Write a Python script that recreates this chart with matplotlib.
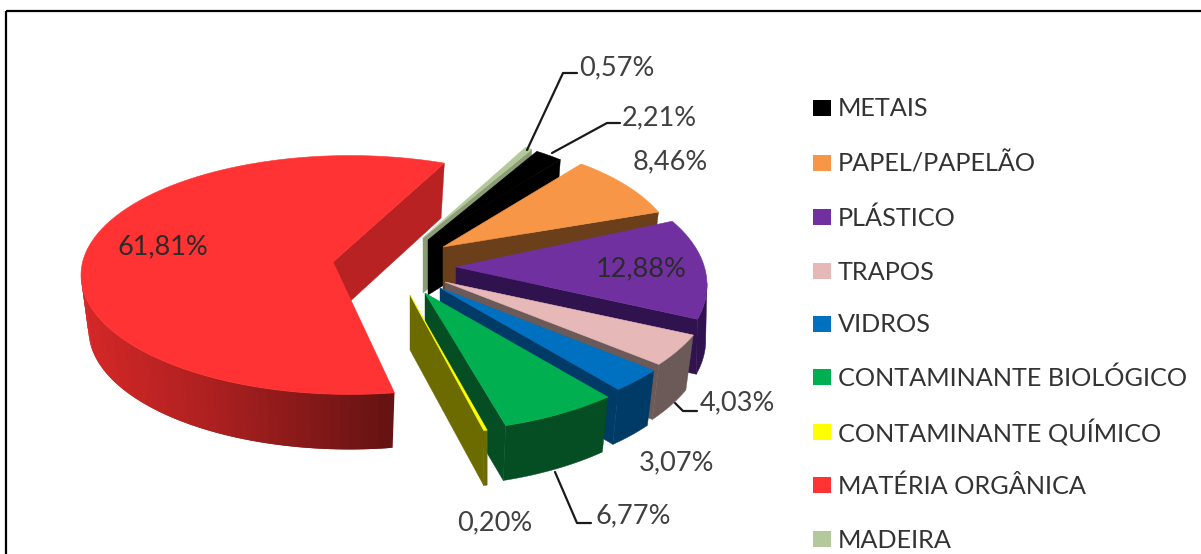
import numpy as np
import matplotlib
matplotlib.use("Agg")
import matplotlib.pyplot as plt
from matplotlib.patches import Polygon, Rectangle
from matplotlib.colors import to_rgb

categories = ["METAIS", "PAPEL/PAPELÃO", "PLÁSTICO", "TRAPOS", "VIDROS",
              "CONTAMINANTE BIOLÓGICO", "CONTAMINANTE QUÍMICO",
              "MATÉRIA ORGÂNICA", "MADEIRA"]
values = [2.21, 8.46, 12.88, 4.03, 3.07, 6.77, 0.20, 61.81, 0.57]
value_labels = ["2,21%", "8,46%", "12,88%", "4,03%", "3,07%", "6,77%", "0,20%", "61,81%", "0,57%"]

top_colors = ["#000000", "#F79646", "#7030A0", "#E6B9B8", "#0070C0", "#00B050", "#FFFF00", "#FF3333", "#B3C99B"]
wall_colors = ["#000000", "#6B3F1A", "#30124F", "#6B5A58", "#003A66", "#054D22", "#6B6B00", "#B82222", "#8C9C74"]

# projection / explosion styling per slice
START = 60.5
DEPTH = 55
# apex xy, rim centre offset xy, radius, squash, angle nudge, sweep scale, base narrowing
geom = {
    "METAIS": ((428, 240), (0, 0), 208, 0.5, 0, 1, 0.97),
    "PAPEL/PAPELÃO": ((443, 247), (0, 12), 235, 0.5, 3.5, 1, 0.97),
    "PLÁSTICO": ((456, 267), (0, 18), 251, 0.5, 10.5, 1, 0.995),
    "TRAPOS": ((445, 282), (0, 0), 270, 0.5, 3.2, 1, 0.97),
    "VIDROS": ((440, 288), (0, 0), 270, 0.5, 3.2, 1, 0.97),
    "CONTAMINANTE BIOLÓGICO": ((425, 293), (0, 0), 277, 0.5, 3.2, 1, 0.97),
    "CONTAMINANTE QUÍMICO": ((410, 295), (0, 0), 281, 0.5, 2.2, 1, 1.0),
    "MATÉRIA ORGÂNICA": ((333, 262), (17, 13), 269, 0.444, -3.5, 0.944, 0.97),
    "MADEIRA": ((423, 238), (0, 0), 208, 0.5, 0, 1, 0.97),
}
draw_order = ["MATÉRIA ORGÂNICA", "MADEIRA", "METAIS", "PAPEL/PAPELÃO", "PLÁSTICO", "TRAPOS",
              "VIDROS", "CONTAMINANTE BIOLÓGICO", "CONTAMINANTE QUÍMICO"]
label_pos = {"0,57%": (617, 67), "2,21%": (659, 117), "8,46%": (670, 161), "12,88%": (641, 268),
             "61,81%": (163, 246), "4,03%": (737, 402), "3,07%": (677, 462), "0,20%": (495, 522),
             "6,77%": (633, 515)}
leaders = [[(527, 150), (563, 73), (577, 73)], [(552, 153), (607, 123), (620, 123)],
           [(675, 403), (683, 411), (697, 411)], [(555, 472), (577, 523), (591, 523)]]
legend_y = [108, 163, 217, 271, 324, 377, 432, 485, 539]

plt.rcParams['font.family'] = ['Lato', 'DejaVu Sans']
fig = plt.figure(figsize=(12.01, 5.54), dpi=100)
ax = fig.add_axes([0, 0, 1, 1])
ax.set_xlim(0, 1201)
ax.set_ylim(554, 0)
ax.axis("off")
ax.add_patch(Rectangle((6, 10.5), 1300, 600, fill=False, ec="black", lw=1.6, zorder=0))

# cumulative angles, clockwise, beginning with MADEIRA
seq = ["MADEIRA", "METAIS", "PAPEL/PAPELÃO", "PLÁSTICO", "TRAPOS", "VIDROS",
       "CONTAMINANTE BIOLÓGICO", "CONTAMINANTE QUÍMICO", "MATÉRIA ORGÂNICA"]
val = dict(zip(categories, values))
angles = {}
cur = START
for name in seq:
    sweep = val[name] * 3.6
    angles[name] = (cur, cur - sweep)
    cur -= sweep


def rim(name, th):
    (ax0, ay0), (ox, oy), r, sq, nudge, scale, _ = geom[name]
    a0, _ = angles[name]
    t = np.radians(a0 + nudge + (th - a0) * scale)
    return ax0 + ox + r * np.cos(t), ay0 + oy - r * sq * np.sin(t), np.sin(t)


def low(p, cx, narrow):
    return (cx + (p[0] - cx) * narrow, p[1] + DEPTH)


z = 1
for name in draw_order:
    i = categories.index(name)
    a0, a1 = angles[name]
    ts = np.linspace(a0, a1, 200)
    xs, ys, s = rim(name, ts)
    apex = geom[name][0]
    nar = geom[name][6]
    cx = apex[0]
    wall = wall_colors[i]
    is_red = name == "MATÉRIA ORGÂNICA"
    # cut face at the clockwise end, the one that faces the viewer
    end = (xs[-1], ys[-1])
    ax.add_patch(Polygon([apex, end, low(end, cx, nar), low(apex, cx, nar)], fc=wall, ec=wall, lw=0.3, zorder=z))
    # outer wall, only the part that faces the viewer
    idx = np.where(s < 0.02)[0]
    if len(idx) > 1:
        if is_red:
            for a, b in zip(idx[:-2], idx[2:]):
                f = np.interp((xs[a] - 81) / (393 - 81), [0, 0.4, 1], [1.16, 0.95, 0.55])
                col = tuple(np.clip(np.array(to_rgb(wall)) * f, 0, 1))
                seg = [(xs[a], ys[a]), (xs[b], ys[b]), low((xs[b], ys[b]), cx, nar), low((xs[a], ys[a]), cx, nar)]
                ax.add_patch(Polygon(seg, fc=col, ec="none", zorder=z + 0.1))
        else:
            upper = list(zip(xs[idx], ys[idx]))
            lower = [low(p, cx, nar) for p in upper][::-1]
            ax.add_patch(Polygon(upper + lower, fc=wall, ec=wall, lw=0.3, zorder=z + 0.1))
    # top face
    ax.add_patch(Polygon(np.vstack([[apex], np.column_stack([xs, ys])]),
                         fc=top_colors[i], ec=top_colors[i], lw=0.4, zorder=z + 0.2))
    z += 1

for pts in leaders:
    p = np.array(pts)
    ax.plot(p[:, 0], p[:, 1], color="#1A1A1A", lw=1.6, zorder=30, solid_capstyle="round")

for lab in value_labels:
    x, y = label_pos[lab]
    col = "#2B2B2B" if lab in ("12,88%", "61,81%") else "#404040"
    ax.text(x, y + 1, lab, ha="center", va="center", fontsize=19.5, color=col, zorder=31)

for name, y in zip(categories, legend_y):
    i = categories.index(name)
    ax.add_patch(Rectangle((813, y - 8), 18, 16, fc=top_colors[i], ec="none", zorder=31))
    ax.text(838, y + 1, name, ha="left", va="center", fontsize=18.2, color="#333333", zorder=31)

fig.savefig("out.png", dpi=100)
